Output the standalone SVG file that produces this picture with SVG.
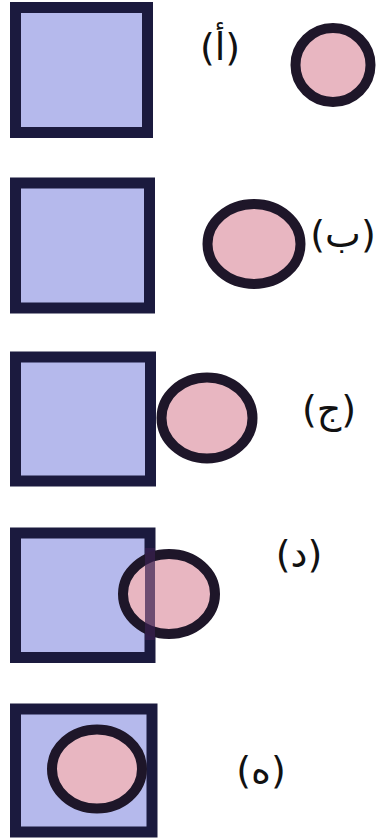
<svg xmlns="http://www.w3.org/2000/svg" width="385" height="839" viewBox="0 0 385 839">
<style>
.sq{fill:#b5b9ec;stroke:#1b1a3e;stroke-width:11}
.ci{fill:#e8b6c1;stroke:#1e1629;stroke-width:10}
.lb{font-family:"DejaVu Sans",sans-serif;font-size:38px;fill:#111;text-anchor:middle}
</style>
<rect width="385" height="839" fill="#ffffff"/>
<g id="row-a">
<rect class="sq" x="15.5" y="7.5" width="132" height="125"/>
<ellipse class="ci" cx="333" cy="65" rx="37.5" ry="37"/>
<text class="lb" x="220" y="60">(أ)</text>
</g>
<g id="row-b">
<rect class="sq" x="15.5" y="183" width="134" height="125"/>
<ellipse class="ci" cx="254" cy="244" rx="46.5" ry="40"/>
<text class="lb" x="343" y="247">(ب)</text>
</g>
<g id="row-c">
<rect class="sq" x="15.5" y="357" width="135" height="124"/>
<ellipse class="ci" cx="207" cy="418" rx="45.5" ry="40.5"/>
<text class="lb" x="329" y="422">(ج)</text>
</g>
<g id="row-d">
<rect class="sq" x="15.5" y="533" width="134.5" height="124.5"/>
<ellipse class="ci" cx="169" cy="594" rx="46" ry="40"/>
<line x1="150" y1="548" x2="150" y2="640" stroke="#3a2050" stroke-width="10" opacity="0.7"/>
<text class="lb" x="299" y="567">(د)</text>
</g>
<g id="row-e">
<rect class="sq" x="15.5" y="709" width="136.5" height="123"/>
<ellipse class="ci" cx="97" cy="769" rx="45" ry="39.5" stroke-width="9"/>
<text class="lb" x="261" y="783">(ه)</text>
</g>
<g id="connectors"/>
</svg>
